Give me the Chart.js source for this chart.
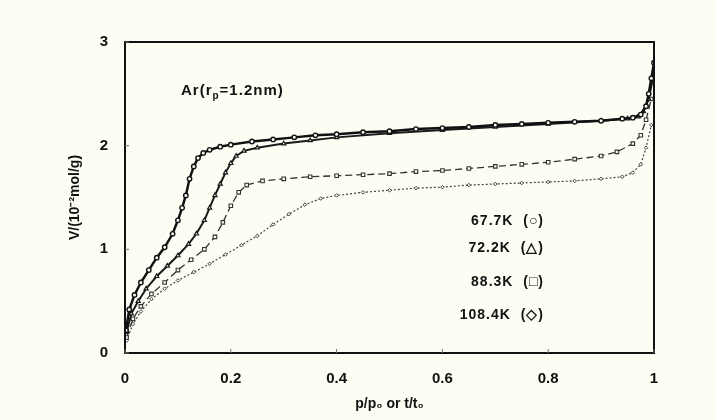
<!DOCTYPE html>
<html>
<head>
<meta charset="utf-8">
<script src="https://cdn.jsdelivr.net/npm/chart.js@4.4.0/dist/chart.umd.min.js"></script>
<style>
    html, body { margin: 0; padding: 0; background: #fdfdf4; }
    #wrap { width: 715px; height: 420px; }
</style>
</head>
<body>
<div id="wrap"><canvas id="isoChart" width="715" height="420"></canvas></div>
<script>
// Ar isotherms in pores (r_p = 1.2 nm)
const xTicks = [0, 0.2, 0.4, 0.6, 0.8, 1];
const yTicks = [0, 1, 2, 3];

const seriesLabels = ['67.7K  (\u25CB)', '72.2K  (\u25B3)', '88.3K  (\u25A1)', '108.4K  (\u25C7)'];

const x1 = [0.002, 0.008, 0.018, 0.03, 0.045, 0.06, 0.075, 0.09, 0.1, 0.108, 0.115, 0.122, 0.13, 0.138, 0.148, 0.16, 0.18, 0.2, 0.24, 0.28, 0.32, 0.36, 0.4, 0.45, 0.5, 0.55, 0.6, 0.65, 0.7, 0.75, 0.8, 0.85, 0.9, 0.94, 0.96, 0.975, 0.985, 0.99, 0.995, 1.0];
const v1 = [0.22, 0.42, 0.56, 0.68, 0.8, 0.92, 1.02, 1.15, 1.28, 1.4, 1.52, 1.68, 1.8, 1.88, 1.93, 1.96, 1.99, 2.01, 2.04, 2.06, 2.08, 2.1, 2.11, 2.13, 2.14, 2.16, 2.17, 2.18, 2.2, 2.21, 2.22, 2.23, 2.24, 2.26, 2.27, 2.3, 2.38, 2.5, 2.65, 2.8];

const x2 = [0.003, 0.012, 0.025, 0.04, 0.06, 0.08, 0.1, 0.12, 0.135, 0.15, 0.16, 0.17, 0.18, 0.19, 0.2, 0.21, 0.225, 0.25, 0.3, 0.35, 0.4, 0.5, 0.6, 0.7, 0.8, 0.9, 0.95, 0.97, 0.98, 0.99, 1.0];
const v2 = [0.2, 0.38, 0.5, 0.62, 0.74, 0.84, 0.94, 1.05, 1.15, 1.28, 1.4, 1.52, 1.63, 1.74, 1.83, 1.9, 1.95, 1.98, 2.02, 2.05, 2.08, 2.12, 2.15, 2.18, 2.21, 2.24, 2.26, 2.28, 2.33, 2.45, 2.7];

const x3 = [0.003, 0.015, 0.03, 0.05, 0.075, 0.1, 0.125, 0.15, 0.17, 0.185, 0.2, 0.215, 0.23, 0.26, 0.3, 0.35, 0.4, 0.45, 0.5, 0.55, 0.6, 0.65, 0.7, 0.75, 0.8, 0.85, 0.9, 0.93, 0.96, 0.975, 0.985, 0.995];
const v3 = [0.15, 0.33, 0.45, 0.57, 0.68, 0.8, 0.9, 1.0, 1.12, 1.26, 1.42, 1.55, 1.62, 1.66, 1.68, 1.7, 1.71, 1.72, 1.73, 1.75, 1.76, 1.78, 1.8, 1.82, 1.84, 1.87, 1.9, 1.94, 2.02, 2.1, 2.25, 2.45];

const x4 = [0.003, 0.015, 0.03, 0.05, 0.075, 0.1, 0.13, 0.16, 0.19, 0.22, 0.25, 0.28, 0.31, 0.34, 0.37, 0.4, 0.45, 0.5, 0.55, 0.6, 0.65, 0.7, 0.75, 0.8, 0.85, 0.9, 0.94, 0.96, 0.975, 0.985, 0.995];
const v4 = [0.12, 0.28, 0.4, 0.52, 0.62, 0.7, 0.78, 0.86, 0.95, 1.04, 1.13, 1.24, 1.34, 1.43, 1.49, 1.52, 1.55, 1.57, 1.59, 1.6, 1.62, 1.63, 1.64, 1.65, 1.66, 1.68, 1.7, 1.74, 1.82, 1.98, 2.2];

function toPoints(xs, ys) {
    return xs.map(function (x, i) { return { x: x, y: ys[i] }; });
}

const FONT = '"Liberation Sans", Arial, sans-serif';

// background, frame, inner ticks and text annotations
const decorPlugin = {
    id: 'decor',
    beforeDraw: function (chart) {
        const ctx = chart.ctx;
        ctx.save();
        ctx.fillStyle = '#fdfdf4';
        ctx.fillRect(0, 0, chart.width, chart.height);
        ctx.restore();
    },
    afterDraw: function (chart) {
        const ctx = chart.ctx;
        const a = chart.chartArea;
        const xs = chart.scales.x;
        const ys = chart.scales.y;
        ctx.save();
        ctx.strokeStyle = '#111';
        ctx.lineWidth = 2;
        ctx.strokeRect(a.left, a.top, a.right - a.left, a.bottom - a.top);

        // short inward ticks
        ctx.lineWidth = 1;
        ctx.strokeStyle = '#777';
        xTicks.forEach(function (t) {
            const px = xs.getPixelForValue(t);
            ctx.beginPath();
            ctx.moveTo(px, a.bottom);
            ctx.lineTo(px, a.bottom - 4);
            ctx.stroke();
        });
        yTicks.forEach(function (t) {
            const py = ys.getPixelForValue(t);
            ctx.beginPath();
            ctx.moveTo(a.left, py);
            ctx.lineTo(a.left + 4, py);
            ctx.stroke();
        });

        // Ar(r_p=1.2nm)
        ctx.fillStyle = '#111';
        ctx.textBaseline = 'middle';
        ctx.textAlign = 'left';
        ctx.letterSpacing = '1px';
        let tx = 181;
        const ty = 91;
        ctx.font = 'bold 15px ' + FONT;
        ctx.fillText('Ar(r', tx, ty);
        tx += ctx.measureText('Ar(r').width;
        ctx.font = 'bold 10px ' + FONT;
        ctx.fillText('p', tx, ty + 5);
        tx += ctx.measureText('p').width;
        ctx.font = 'bold 15px ' + FONT;
        ctx.fillText('=1.2nm)', tx, ty);

        // temperature key
        ctx.textAlign = 'right';
        ctx.font = 'bold 14px ' + FONT;
        ctx.letterSpacing = '1px';
        const keyY = [221, 248, 282, 315];
        seriesLabels.forEach(function (s, i) {
            ctx.fillText(s, 544, keyY[i]);
        });
        ctx.restore();
    }
};

const ctx = document.getElementById('isoChart');
new Chart(ctx, {
    type: 'scatter',
    data: {
        datasets: [
            {
                label: seriesLabels[0],
                data: toPoints(x1, v1),
                showLine: true,
                borderColor: '#111',
                borderWidth: 2.5,
                pointStyle: 'circle',
                pointRadius: 2.2,
                pointBorderWidth: 1.4,
                pointBackgroundColor: '#fdfdf4',
                pointBorderColor: '#111'
            },
            {
                label: seriesLabels[1],
                data: toPoints(x2, v2),
                showLine: true,
                borderColor: '#1a1a1a',
                borderWidth: 2,
                pointStyle: 'triangle',
                pointRadius: 2.4,
                pointBorderWidth: 1.2,
                pointBackgroundColor: '#fdfdf4',
                pointBorderColor: '#1a1a1a'
            },
            {
                label: seriesLabels[2],
                data: toPoints(x3, v3),
                showLine: true,
                borderColor: '#333',
                borderWidth: 1.3,
                borderDash: [7, 4],
                pointStyle: 'rect',
                pointRadius: 2.5,
                pointBorderWidth: 1.1,
                pointBackgroundColor: '#fdfdf4',
                pointBorderColor: '#333'
            },
            {
                label: seriesLabels[3],
                data: toPoints(x4, v4),
                showLine: true,
                borderColor: '#444',
                borderWidth: 1.2,
                borderDash: [2, 2],
                pointStyle: 'rectRot',
                pointRadius: 1.8,
                pointBorderWidth: 1,
                pointBackgroundColor: '#fdfdf4',
                pointBorderColor: '#444'
            }
        ]
    },
    options: {
        responsive: false,
        animation: false,
        layout: {
            padding: { left: 60, right: 61, top: 42, bottom: 0 }
        },
        plugins: {
            legend: { display: false },
            tooltip: { enabled: false }
        },
        scales: {
            x: {
                type: 'linear',
                min: 0,
                max: 1,
                afterFit: function (scale) { scale.height = 67; },
                afterBuildTicks: function (scale) {
                    scale.ticks = xTicks.map(function (v) { return { value: v }; });
                },
                grid: { display: false, drawTicks: false },
                border: { display: false },
                ticks: {
                    padding: 17,
                    color: '#111',
                    font: { family: FONT, size: 15, weight: 'bold' },
                    callback: function (v) { return String(v); }
                },
                title: {
                    display: true,
                    text: 'p/p\u2080 or t/t\u2080',
                    color: '#111',
                    font: { family: FONT, size: 14, weight: 'bold' },
                    padding: { top: 0, bottom: 7 }
                }
            },
            y: {
                type: 'linear',
                min: 0,
                max: 3,
                afterFit: function (scale) { scale.width = 65; },
                afterBuildTicks: function (scale) {
                    scale.ticks = yTicks.map(function (v) { return { value: v }; });
                },
                grid: { display: false, drawTicks: false },
                border: { display: false },
                ticks: {
                    padding: 17,
                    color: '#111',
                    font: { family: FONT, size: 15, weight: 'bold' }
                },
                title: {
                    display: true,
                    text: 'V/(10\u207B\u00B2mol/g)',
                    color: '#111',
                    font: { family: FONT, size: 14, weight: 'bold' },
                    padding: { top: 7, bottom: 0 }
                }
            }
        }
    },
    plugins: [decorPlugin]
});
</script>
</body>
</html>
